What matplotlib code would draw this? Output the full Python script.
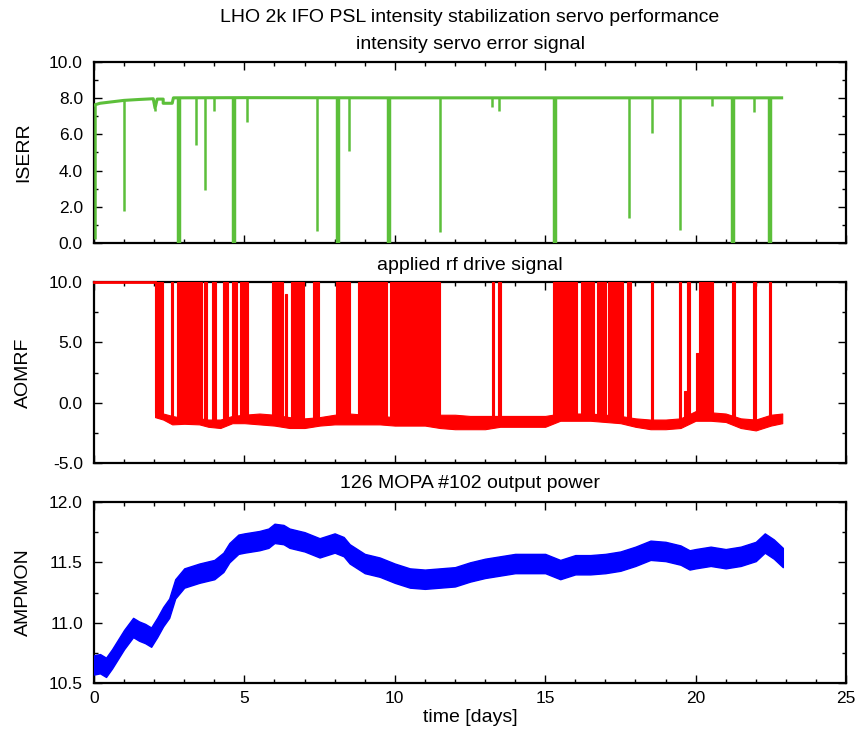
import numpy as np
import matplotlib
matplotlib.use("Agg")
import matplotlib.pyplot as plt
from matplotlib.ticker import MultipleLocator, FormatStrFormatter

plt.rcParams["font.family"] = ["Liberation Sans", "DejaVu Sans"]

# ---------------- data ----------------
# intensity servo error signal: slow baseline and sharp drop-outs
iserr_base_t = [0.0, 0.2, 0.6, 1.0, 1.5, 1.97, 2.03, 2.10, 2.30, 2.30, 2.60, 2.64,
                5.0, 10.0, 15.0, 20.0, 22.86]
iserr_base_v = [7.62, 7.72, 7.80, 7.88, 7.93, 7.97, 7.45, 7.95, 7.95, 7.72, 7.72, 8.02,
                8.03, 8.02, 8.02, 8.02, 8.02]
iserr_dip_t = [0.03, 1.01, 2.03, 2.83, 3.38, 3.70, 4.00, 4.65, 5.10, 7.40, 8.10, 8.49,
               9.81, 11.50, 13.22, 13.47, 15.33, 17.80, 18.56, 19.47, 20.53, 21.25,
               21.95, 22.47]
iserr_dip_min = [0.20, 1.75, 7.30, 0.00, 5.40, 2.95, 7.30, 0.00, 6.70, 0.65, 0.00, 5.10,
                 0.00, 0.62, 7.50, 7.30, 0.00, 1.38, 6.08, 0.70, 7.55, 0.00,
                 7.25, 0.00]

# applied rf drive signal: saturated start, low noisy baseline, toggling bursts
aomrf_sat_t = [0.0, 2.03]
aomrf_sat_v = [10.0, 10.0]
aomrf_low_t = [2.03, 2.3, 2.6, 3.0, 3.5, 3.8, 4.2, 4.6, 5.0, 5.5, 6.0, 6.5, 7.0, 7.5,
               8.0, 8.5, 9.0, 9.5, 10.0, 10.5, 11.0, 11.5, 12.0, 12.5, 13.0, 13.5,
               14.0, 14.5, 15.0, 15.5, 16.0, 16.5, 17.0, 17.5, 18.0, 18.5, 19.0,
               19.5, 20.0, 20.5, 21.0, 21.5, 22.0, 22.5, 22.88]
aomrf_low_top = [-0.5, -0.9, -1.1, -1.3, -1.3, -1.4, -1.4, -1.1, -1.0, -0.9, -1.0,
                 -1.2, -1.3, -1.2, -1.0, -0.9, -1.0, -1.1, -1.2, -1.2, -1.2, -1.0,
                 -1.0, -1.1, -1.1, -1.1, -1.1, -1.1, -1.1, -0.9, -0.9, -0.9, -1.0,
                 -1.1, -1.3, -1.4, -1.4, -1.3, -0.7, -0.8, -0.9, -1.3, -1.4, -1.0, -0.9]
aomrf_low_bot = [-1.2, -1.4, -1.8, -1.75, -1.8, -2.0, -2.1, -1.7, -1.7, -1.8, -1.9,
                 -2.1, -2.1, -1.9, -1.8, -1.8, -1.8, -1.8, -1.9, -1.9, -1.9, -2.1,
                 -2.2, -2.2, -2.2, -2.0, -2.0, -2.0, -2.0, -1.5, -1.5, -1.5, -1.6,
                 -1.7, -2.0, -2.2, -2.2, -2.1, -1.5, -1.5, -1.6, -2.1, -2.3, -1.9, -1.7]
aomrf_burst_start = [2.03, 2.55, 2.75, 3.66, 3.91, 4.28, 4.58, 4.85, 5.91, 6.35, 6.55,
                     7.29, 8.04, 8.79, 9.84, 13.22, 13.44, 15.27, 16.18, 16.73, 17.10,
                     17.73, 18.53, 19.44, 19.63, 19.70, 20.01, 20.12, 21.22, 21.92, 22.44]
aomrf_burst_end = [2.30, 2.64, 3.58, 3.77, 4.06, 4.46, 4.76, 5.13, 6.29, 6.42, 6.98,
                   7.49, 8.51, 9.73, 11.50, 13.30, 13.52, 16.05, 16.62, 17.02, 17.60,
                   17.84, 18.59, 19.52, 19.70, 19.81, 20.12, 20.59, 21.30, 22.00, 22.52]
aomrf_burst_top = [10.0, 10.0, 10.0, 10.0, 10.0, 10.0, 10.0, 10.0, 10.0, 9.0, 10.0,
                   10.0, 10.0, 10.0, 10.0, 10.0, 10.0, 10.0, 10.0, 10.0, 10.0,
                   10.0, 10.0, 10.0, 1.0, 10.0, 4.1, 10.0, 10.0, 10.0, 10.0]

# MOPA output power: running level and its peak-to-peak spread
amp_t = [0.0, 0.2, 0.4, 0.6, 0.8, 1.0, 1.3, 1.5, 1.7, 1.9, 2.1, 2.3, 2.5, 2.7, 2.9,
         3.0, 3.5, 4.0, 4.3, 4.5, 4.8, 5.0, 5.5, 5.8, 6.0, 6.3, 6.5, 7.0, 7.5, 8.0,
         8.3, 8.5, 9.0, 9.5, 10.0, 10.5, 11.0, 11.5, 12.0, 12.5, 13.0, 13.5, 14.0,
         14.5, 15.0, 15.5, 16.0, 16.5, 17.0, 17.5, 18.0, 18.5, 19.0, 19.5, 19.8,
         20.0, 20.5, 21.0, 21.5, 22.0, 22.3, 22.6, 22.9]
amp_level = [10.65, 10.66, 10.63, 10.70, 10.78, 10.86, 10.96, 10.93, 10.91, 10.88,
             10.96, 11.05, 11.12, 11.28, 11.34, 11.37, 11.41, 11.44, 11.50, 11.58,
             11.65, 11.66, 11.68, 11.70, 11.74, 11.73, 11.70, 11.67, 11.62, 11.66,
             11.63, 11.57, 11.49, 11.46, 11.41, 11.37, 11.36, 11.37, 11.38, 11.42,
             11.45, 11.47, 11.49, 11.49, 11.49, 11.44, 11.48, 11.48, 11.49, 11.51,
             11.55, 11.60, 11.59, 11.56, 11.52, 11.53, 11.55, 11.53, 11.55, 11.59,
             11.66, 11.61, 11.54]
amp_spread = 0.08

days_ticks = [0, 5, 10, 15, 20, 25]

# ---------------- figure ----------------
fig = plt.figure(figsize=(8.55, 7.34), dpi=100)
left, width = 94 / 855, 752 / 855
ax1 = fig.add_axes([left, 1 - 243 / 734, width, 181 / 734])
ax2 = fig.add_axes([left, 1 - 463 / 734, width, 181 / 734])
ax3 = fig.add_axes([left, 1 - 683 / 734, width, 181 / 734])

green = "#5cbf3a"
red = "#ff0000"
blue = "#0000ff"
fs = 12.5     # tick labels
lfs = 14      # titles and axis labels

# panel 1
ax1.plot(iserr_base_t, iserr_base_v, color=green, lw=2.2, zorder=3)
dip_t = np.array(iserr_dip_t)
dip_min = np.array(iserr_dip_min)
base_at_dip = np.interp(dip_t, iserr_base_t, iserr_base_v)
deep = dip_min < 0.1
ax1.vlines(dip_t[~deep], dip_min[~deep], base_at_dip[~deep], color=green, lw=1.8, zorder=3)
ax1.vlines(dip_t[deep], dip_min[deep], base_at_dip[deep], color=green, lw=3.2, zorder=3)
ax1.set_ylim(0, 10)
ax1.yaxis.set_major_locator(MultipleLocator(2))
ax1.yaxis.set_minor_locator(MultipleLocator(1))
ax1.set_ylabel("ISERR", fontsize=lfs)
ax1.set_title("intensity servo error signal", fontsize=lfs, pad=9)
fig.text(left + width / 2, 1 - 18 / 734,
         "LHO 2k IFO PSL intensity stabilization servo performance",
         fontsize=lfs, ha="center", va="center")

# panel 2
ax2.plot(aomrf_sat_t, aomrf_sat_v, color=red, lw=2.0, zorder=3, clip_on=False)
ax2.fill_between(aomrf_low_t, aomrf_low_bot, aomrf_low_top, color=red, lw=0.8,
                 edgecolor=red, zorder=3)
b0 = np.array(aomrf_burst_start)
b1 = np.array(aomrf_burst_end)
btop = np.array(aomrf_burst_top)
bbase = 0.5 * (np.interp(b0, aomrf_low_t, aomrf_low_top) +
               np.interp(b0, aomrf_low_t, aomrf_low_bot))
ax2.bar(b0, btop - bbase, width=b1 - b0, bottom=bbase, align="edge",
        color=red, edgecolor=red, lw=0.8, zorder=3)
ax2.set_ylim(-5, 10)
ax2.yaxis.set_major_locator(MultipleLocator(5))
ax2.yaxis.set_minor_locator(MultipleLocator(2.5))
ax2.set_ylabel("AOMRF", fontsize=lfs)
ax2.set_title("applied rf drive signal", fontsize=lfs, pad=9)

# panel 3
amp_level = np.array(amp_level)
ax3.fill_between(amp_t, amp_level - amp_spread, amp_level + amp_spread,
                 color=blue, edgecolor=blue, lw=1.0, zorder=3)
ax3.set_ylim(10.5, 12.0)
ax3.yaxis.set_major_locator(MultipleLocator(0.5))
ax3.yaxis.set_minor_locator(MultipleLocator(0.25))
ax3.set_ylabel("AMPMON", fontsize=lfs)
ax3.set_title("126 MOPA #102 output power", fontsize=lfs, pad=10)
ax3.set_xlabel("time [days]", fontsize=lfs, labelpad=2)

for ax in (ax1, ax2, ax3):
    ax.set_xlim(0, 25)
    ax.set_xticks(days_ticks)
    ax.xaxis.set_minor_locator(MultipleLocator(1))
    ax.yaxis.set_major_formatter(FormatStrFormatter("%.1f"))
    ax.tick_params(which="both", direction="in", top=True, right=True,
                   labelsize=fs, width=1.0, color="black", pad=8)
    ax.tick_params(which="major", length=6)
    ax.tick_params(which="minor", length=3)
    for sp in ax.spines.values():
        sp.set_linewidth(1.6)
        sp.set_zorder(2.5)
    ax.yaxis.set_label_coords(-0.082, 0.5)
for ax in (ax1, ax2):
    ax.tick_params(labelbottom=False)
ax3.tick_params(axis="x", pad=6)

fig.savefig("out.png", dpi=100)
